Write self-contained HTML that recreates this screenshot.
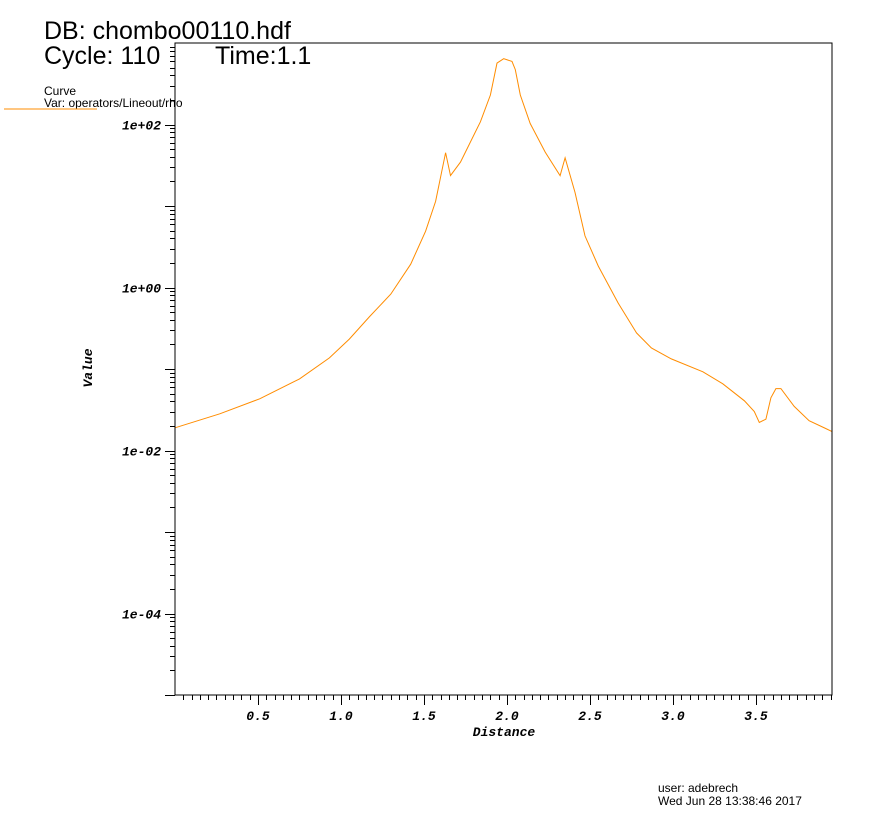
<!DOCTYPE html>
<html><head><meta charset="utf-8"><style>
body{margin:0;background:#fff;}
svg{display:block;font-family:"Liberation Sans",sans-serif;}
.tl{font-family:"Liberation Mono",monospace;font-weight:bold;font-style:italic;font-size:13px;}
</style></head><body>
<svg id="chart" width="878" height="818">
<text x="44" y="39" font-size="25">DB: chombo00110.hdf</text>
<text x="44" y="64" font-size="25">Cycle: 110</text>
<text x="215" y="64" font-size="25">Time:1.1</text>
<text x="44" y="95" font-size="12">Curve</text>
<text x="44" y="107" font-size="12">Var: operators/Lineout/rho</text>
<line x1="4" y1="109" x2="97" y2="109" stroke="#ff8c00" stroke-width="1"/>
<g id="axes"></g>
<path id="curve" fill="none" stroke="#ff8c00" stroke-width="1"/>
<rect x="175" y="43" width="657" height="652" fill="none" stroke="#000" stroke-width="1"/>
<text class="tl" x="92" y="368" text-anchor="middle" transform="rotate(-90 92 368)">Value</text>
<text class="tl" x="504" y="736" text-anchor="middle">Distance</text>
<text x="658" y="792" font-size="12">user: adebrech</text>
<text x="658" y="805" font-size="12">Wed Jun 28 13:38:46 2017</text>
</svg>
<script>
const xs=[0.00,0.27,0.51,0.75,0.93,1.05,1.17,1.30,1.42,1.51,1.57,1.63,1.66,1.72,1.84,1.90,1.94,1.98,2.03,2.05,2.08,2.14,2.23,2.32,2.35,2.41,2.47,2.55,2.67,2.78,2.87,2.99,3.18,3.30,3.43,3.49,3.52,3.56,3.59,3.62,3.65,3.73,3.82,3.92,3.96];
const ys=[0.0190,0.0282,0.0431,0.0757,0.137,0.233,0.435,0.830,1.93,4.90,11.4,45.1,23.6,34.6,108,230,566,641,594,471,230,103,45.9,23.6,39.0,14.7,4.30,1.83,0.644,0.277,0.181,0.133,0.0923,0.0658,0.0407,0.0301,0.0221,0.0242,0.0443,0.0574,0.0574,0.0348,0.0232,0.0186,0.0170];
const xTicks=["0.5","1.0","1.5","2.0","2.5","3.0","3.5"];
const yTicks=["1e+02","1e+00","1e-02","1e-04"];
const L=175,R=832,T=43,B=695,xmin=0,xmax=3.958,lmin=-5,lmax=3;
const sx=v=>L+(v-xmin)/(xmax-xmin)*(R-L);
const sy=v=>B-(Math.log10(v)-lmin)/(lmax-lmin)*(B-T);
const NS="http://www.w3.org/2000/svg";
const ax=document.getElementById('axes');
function ln(x1,y1,x2,y2){const l=document.createElementNS(NS,'line');l.setAttribute('x1',x1);l.setAttribute('y1',y1);l.setAttribute('x2',x2);l.setAttribute('y2',y2);l.setAttribute('stroke','#000');


ax.appendChild(l);}
for(let i=1;i*0.05<xmax;i++){const v=i*0.05,x=Math.round(sx(v))+0.5;ln(x,B,x,B+(i%10==0?10:5));}
xTicks.forEach(t=>{const x=sx(parseFloat(t));const e=document.createElementNS(NS,'text');e.setAttribute('x',x);e.setAttribute('y',B+25);e.setAttribute('text-anchor','middle');e.setAttribute('class','tl');e.textContent=t;


ax.appendChild(e);});
for(let d=lmin;d<lmax;d++){for(let k=1;k<10;k++){const y=Math.round(sy(k*Math.pow(10,d)))+0.5;ln(L-(k==1?10:5),y,L,y);}}
yTicks.forEach(t=>{const y=sy(parseFloat(t));const e=document.createElementNS(NS,'text');e.setAttribute('x',L-14);e.setAttribute('y',y+5);e.setAttribute('text-anchor','end');e.setAttribute('class','tl');e.textContent=t;


ax.appendChild(e);});
document.getElementById('curve').setAttribute('d',xs.map((v,i)=>(i?'L':'M')+sx(v).toFixed(1)+' '+sy(ys[i]).toFixed(1)).join(' '));
</script>
</body></html>
